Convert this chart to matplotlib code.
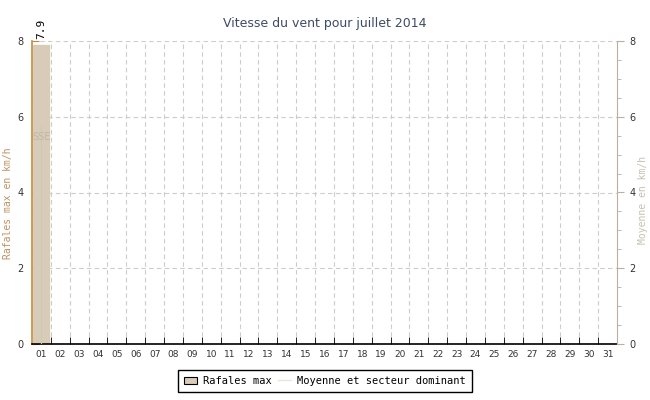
import numpy as np
import matplotlib; matplotlib.use("Agg")
import matplotlib.pyplot as plt
from matplotlib.patches import Patch
from matplotlib.lines import Line2D

days = np.arange(1, 32)
day_labels = ["%02d" % d for d in days]
gust_days = [1]
gust_values = [7.9]
mean_days = [1]
mean_values = [5.8]
mean_dirs = ["SSE"]

bar_col = "#d8ccb8"
left_col = "#c8893c"
right_col = "#b8b0a0"
grid_col = "#cccccc"

fig = plt.figure(figsize=(6.5, 4), dpi=100)
ax = fig.add_axes([32 / 650, 56 / 400, 585 / 650, 303 / 400])
ax.set_xlim(0.5, 31.5)
ax.set_ylim(0, 8)

ax.bar(gust_days, gust_values, width=0.85, color=bar_col, edgecolor=bar_col, zorder=2)
for d, v in zip(gust_days, gust_values):
    ax.text(d, v + 0.15, "%.1f" % v, rotation=90, ha="center", va="bottom",
            fontsize=8, family="DejaVu Sans Mono", clip_on=False)

for d, v, s in zip(mean_days, mean_values, mean_dirs):
    ax.vlines(d, 0, v, color="#c8ccb0", lw=0.8, zorder=3)
    ax.text(d, v - 0.2, s, ha="center", va="top", fontsize=7, color="#c0b8a8", zorder=4)

# grid
ax.set_xticks(days)
ax.set_xticklabels(day_labels, fontsize=6.5, color="#333333")
ax.set_xticks(np.arange(1.5, 31.5), minor=True)
ax.tick_params(axis="x", which="major", length=0, pad=4)
ax.tick_params(axis="x", which="minor", direction="in", length=5, color="black")
ax.grid(which="minor", axis="x", color=grid_col, ls=(0, (4, 3)), lw=0.8, zorder=0)
ax.set_yticks([0, 2, 4, 6, 8])
ax.set_yticks(np.arange(0, 8.01, 0.5), minor=True)
ax.grid(which="major", axis="y", color=grid_col, ls=(0, (4, 3)), lw=0.8, zorder=0)
ax.tick_params(axis="y", which="both", direction="in", color=left_col, labelsize=7, labelcolor="#333333")
ax.tick_params(axis="y", which="major", length=5, pad=6)
ax.tick_params(axis="y", which="minor", length=3)
ax.set_axisbelow(True)

for s in ["top", "right"]:
    ax.spines[s].set_visible(False)
ax.spines["left"].set_color(left_col)
ax.spines["bottom"].set_color("black")
ax.spines["left"].set_linewidth(1.2)
ax.spines["bottom"].set_linewidth(1.2)

ax2 = ax.twinx()
ax2.set_ylim(0, 8)
ax2.set_yticks([0, 2, 4, 6, 8])
ax2.set_yticks(np.arange(0, 8.01, 0.5), minor=True)
ax2.tick_params(axis="y", which="both", direction="out", color=right_col, labelsize=7, labelcolor="#333333")
ax2.tick_params(axis="y", which="major", length=5, pad=4)
ax2.tick_params(axis="y", which="minor", length=3)
for s in ["top", "left", "bottom"]:
    ax2.spines[s].set_visible(False)
ax2.spines["right"].set_color(right_col)

fig.text(8 / 650, 1 - 203 / 400, "Rafales max en km/h", rotation=90, ha="center", va="center",
         color="#c09060", fontsize=7, family="DejaVu Sans Mono")
fig.text(643 / 650, 1 - 200 / 400, "Moyenne en km/h", rotation=90, ha="center", va="center",
         color="#c8c0b0", fontsize=7, family="DejaVu Sans Mono")

fig.text(0.5, 1 - 24 / 400, "Vitesse du vent pour juillet 2014", ha="center", va="center",
         fontsize=9, color="#3e4a66")

handles = [Patch(facecolor=bar_col, edgecolor="black", lw=0.8),
           Line2D([], [], color="#ece6d8", lw=1)]
leg = fig.legend(handles, ["Rafales max", "Moyenne et secteur dominant"],
                 loc="center", bbox_to_anchor=(325 / 650, 1 - 381 / 400), ncol=2,
                 prop={"family": "DejaVu Sans Mono", "size": 7.5},
                 fancybox=False, edgecolor="black", framealpha=1,
                 handlelength=1.2, handletextpad=0.6, columnspacing=0.6, borderpad=0.6)
leg.get_frame().set_linewidth(1)

fig.savefig("out.png", dpi=100)
